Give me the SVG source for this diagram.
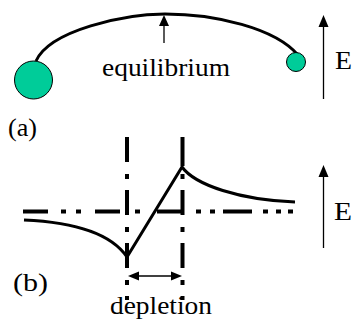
<svg xmlns="http://www.w3.org/2000/svg" width="355" height="321" viewBox="0 0 355 321">
<style>
.t{font-family:"Liberation Serif","Times New Roman",Times,serif;fill:#000}
.curve{fill:none;stroke:#000;stroke-width:3}
.thin{fill:none;stroke:#000;stroke-width:1.3}
.dd{fill:none;stroke:#000;stroke-width:4}
.ball{fill:#00CC99;stroke:#000;stroke-width:1}
</style>
<rect width="355" height="321" fill="#fff"/>
<g id="panel-a">
  <path class="curve" d="M36,61 C50,30 125,14 165,14 C215,14 275,28 298,55"/>
  <circle id="big-ball" class="ball" cx="33.5" cy="80" r="19"/>
  <circle id="small-ball" class="ball" cx="296" cy="62" r="9.5"/>
  <g id="eq-arrow">
    <line class="thin" x1="164" y1="43" x2="164" y2="24" stroke-width="1.5"/>
    <polygon points="164,15 159,26 169,26" fill="#000"/>
  </g>
  <text class="t" x="102" y="76" font-size="25" textLength="128" lengthAdjust="spacingAndGlyphs">equilibrium</text>
  <g id="E-arrow-a">
    <line class="thin" x1="323.5" y1="99" x2="323.5" y2="25"/>
    <polygon points="323.5,15 318.5,27 328.5,27" fill="#000"/>
  </g>
  <text class="t" x="335" y="69" font-size="26" textLength="17" lengthAdjust="spacingAndGlyphs">E</text>
  <text class="t" x="8" y="136" font-size="25" textLength="29" lengthAdjust="spacingAndGlyphs">(a)</text>
</g>
<g id="panel-b">
  <g id="guides">
    <line class="dd" x1="127" y1="137" x2="127" y2="300" stroke-dasharray="25 12 5 11"/>
    <line class="dd" x1="182.5" y1="137" x2="182.5" y2="300" stroke-dasharray="29 8 5 11 25 12 5 11 25 12 5 11 25 12 5 11"/>
    <path class="dd" d="M23,211.5H48 M61,211.5H66 M76,211.5H81 M95,211.5H120 M135,211.5H140 M157,211.5H182 M196,211.5H201 M210,211.5H215 M223,211.5H252 M263,211.5H268 M276,211.5H281 M288,211.5H293"/>
  </g>
  <g id="band">
    <path class="curve" d="M24,220 C70,222 110,232 127,257 L182,167 C195,185 240,200 295,202"/>
  </g>
  <g id="depletion-arrow">
    <line class="thin" x1="137" y1="276" x2="173" y2="276" stroke-width="1.5"/>
    <polygon points="128,276 139,271.5 139,280.5" fill="#000"/>
    <polygon points="182,276 171,271.5 171,280.5" fill="#000"/>
  </g>
  <g id="E-arrow-b">
    <line class="thin" x1="323.5" y1="248" x2="323.5" y2="175"/>
    <polygon points="323.5,165 318.5,177 328.5,177" fill="#000"/>
  </g>
  <text class="t" x="334" y="220" font-size="26" textLength="18" lengthAdjust="spacingAndGlyphs">E</text>
  <text class="t" x="13" y="291" font-size="26" textLength="35" lengthAdjust="spacingAndGlyphs">(b)</text>
  <text class="t" x="110" y="314" font-size="25" textLength="102" lengthAdjust="spacingAndGlyphs">depletion</text>
</g>
</svg>
